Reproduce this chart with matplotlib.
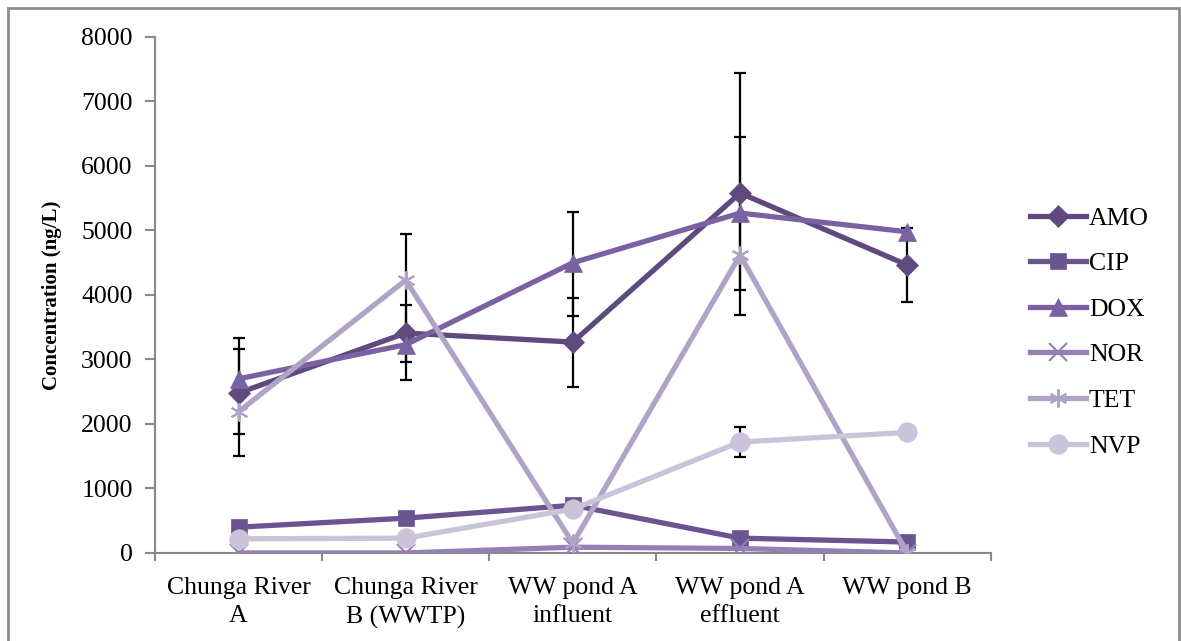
import numpy as np
import matplotlib
matplotlib.use("Agg")
import matplotlib.pyplot as plt
from matplotlib.patches import Rectangle

# data
sites = ["Chunga River\nA", "Chunga River\nB (WWTP)", "WW pond A\ninfluent",
         "WW pond A\neffluent", "WW pond B"]

amo = [2480, 3410, 3270, 5580, 4465]
cip = [400, 540, 740, 230, 170]
dox = [2700, 3230, 4500, 5270, 4980]
nor = [0, 0, 90, 70, 0]
tet = [2190, 4230, 150, 4620, 0]
nvp = [220, 230, 680, 1720, 1870]

# error bars (lower, upper), nan = no bar
amo_lo = [976, 450, 696, 1890, 575]
amo_hi = [853, 435, 683, 1862, 575]
dox_lo = [855, 548, 826, 1192, np.nan]
dox_hi = [463, 1716, 787, 1180, np.nan]
nvp_lo = [np.nan, np.nan, np.nan, 235, np.nan]
nvp_hi = [np.nan, np.nan, np.nan, 235, np.nan]

series = [
    ("AMO", amo, "#5e4a7e", "D", 11),
    ("CIP", cip, "#6b5591", "s", 12),
    ("DOX", dox, "#7a62a2", "^", 13),
    ("NOR", nor, "#9480b5", "x", 13),
    ("TET", tet, "#b0a4c6", "x", 13),
    ("NVP", nvp, "#cac3da", "o", 14),
]

plt.rcParams['font.family'] = ['Liberation Serif', 'DejaVu Serif']
FS = 18.5

fig = plt.figure(figsize=(11.81, 6.41), dpi=100)
ax = fig.add_axes([0.1312, 0.1373, 0.7078, 0.805])

x = np.arange(len(sites))

for name, vals, col, mk, ms in series:
    if name == "TET":
        # asterisk-like marker
        ax.plot(x, vals, color=col, lw=3.8, marker=(6, 2, 0), ms=ms,
                mew=1.5, label=name, zorder=3)
    else:
        ax.plot(x, vals, color=col, lw=3.8, marker=mk, ms=ms,
                mew=1.5 if mk == "x" else 0.5, mec=col, label=name, zorder=3)

for vals, lo, hi in [(amo, amo_lo, amo_hi), (dox, dox_lo, dox_hi), (nvp, nvp_lo, nvp_hi)]:
    v = np.array(vals, dtype=float)
    lo = np.array(lo)
    hi = np.array(hi)
    m = ~np.isnan(lo)
    ax.errorbar(x[m], v[m], yerr=[lo[m], hi[m]], fmt="none", ecolor="black",
                elinewidth=1.6, capsize=4.5, capthick=1.6, zorder=2)

ax.set_xlim(-0.5, 4.5)
ax.set_ylim(0, 8000)
ax.set_yticks(np.arange(0, 8001, 1000))
ax.set_xticks(x)
ax.set_xticklabels(sites, fontsize=FS, linespacing=1.4)
ax.set_xticks(np.arange(-0.5, 4.6, 1), minor=True)
ax.tick_params(axis="x", which="major", length=0, pad=17)
ax.tick_params(axis="x", which="minor", length=6, color="#898989", width=1.5, direction="out")
ax.tick_params(axis="y", length=7, color="#898989", width=1.5, labelsize=FS, pad=9)

for s in ["top", "right"]:
    ax.spines[s].set_visible(False)
for s in ["left", "bottom"]:
    ax.spines[s].set_color("#898989")
    ax.spines[s].set_linewidth(1.5)

ax.set_ylabel("Concentration (ng/L)", fontsize=15, fontweight="bold", labelpad=14)

ax.legend(loc="center left", bbox_to_anchor=(0.872, 0.482), bbox_transform=fig.transFigure,
          frameon=False, fontsize=FS, handlelength=2.2, handletextpad=0.1,
          labelspacing=0.88, borderpad=0, borderaxespad=0)

fig.patches.append(Rectangle((8 / 1181, -0.05), 1171 / 1181, 1.05 - 8 / 641,
                             transform=fig.transFigure, fill=False,
                             edgecolor="#8c8c8c", lw=2))

fig.savefig("out.png", dpi=100)
